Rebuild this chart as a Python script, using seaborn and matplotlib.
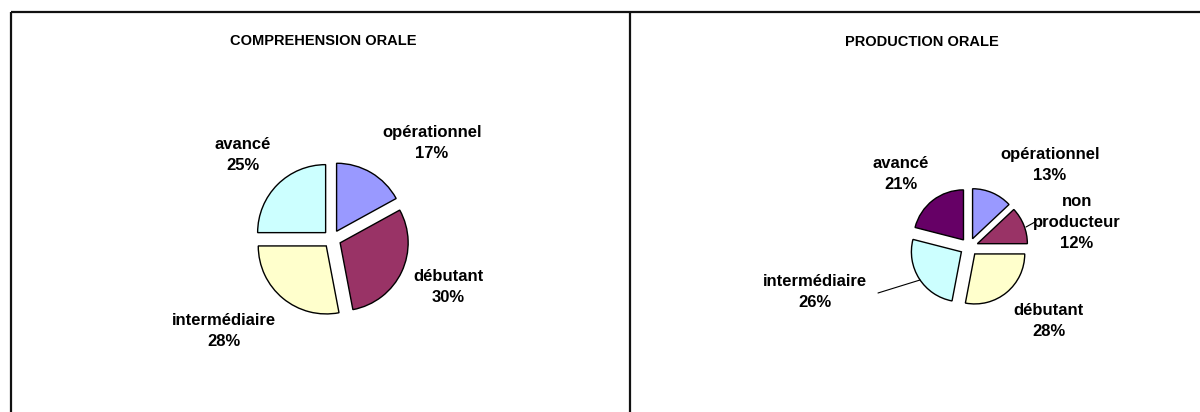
import numpy as np
import seaborn as sns
import matplotlib.pyplot as plt

# data
co_labels = ['opérationnel', 'débutant', 'intermédiaire', 'avancé']
co_values = [17, 30, 28, 25]
po_labels = ['opérationnel', 'non\nproducteur', 'débutant', 'intermédiaire', 'avancé']
po_values = [13, 12, 28, 26, 21]

co_colors = ['#9999FF', '#993366', '#FFFFCC', '#CCFFFF']
po_colors = ['#9999FF', '#993366', '#FFFFCC', '#CCFFFF', '#660066']

sns.set_theme(style='white')
plt.rcParams['font.family'] = ['Liberation Sans', 'DejaVu Sans']
plt.rcParams['text.color'] = 'black'

W, H = 1200, 412
fig = plt.figure(figsize=(12, 4.12), dpi=100)
ax = fig.add_axes([0, 0, 1, 1])


def py(y):
    # reference pixel rows count from the top
    return H - y


wp = dict(edgecolor='black', linewidth=1.0)

# left pie
ax.pie(co_values, colors=sns.color_palette(co_colors), startangle=90, counterclock=False,
       center=(332, py(239)), radius=68, explode=[9] * len(co_values), wedgeprops=wp)
# right pie
ax.pie(po_values, colors=sns.color_palette(po_colors), startangle=90, counterclock=False,
       center=(969, py(247)), radius=50, explode=[9] * len(po_values), wedgeprops=wp)

ax.set_xlim(0, W)
ax.set_ylim(0, H)
ax.set_aspect('equal')
ax.axis('off')

# label placement (reference pixel positions)
co_pos = [(432, 143), (448, 287), (224, 331), (243, 155)]
po_pos = [(1050, 165), (1077, 222), (1049, 321), (815, 292), (901, 174)]

lab_kw = dict(ha='center', va='center', fontsize=12, fontweight='bold',
              linespacing=1.5, color='black')
for lab, v, (x, y) in zip(co_labels, co_values, co_pos):
    ax.text(x, py(y), f'{lab}\n{v}%', **lab_kw)
for lab, v, (x, y) in zip(po_labels, po_values, po_pos):
    ax.text(x, py(y), f'{lab}\n{v}%', **lab_kw)

# leader lines
ax.plot([878, 920], [py(293), py(280)], color='black', lw=0.8)
ax.plot([1026, 1035], [py(227), py(222)], color='black', lw=0.8)

# titles
ax.text(323, py(41), 'COMPREHENSION ORALE', ha='center', va='center',
        fontsize=10.5, fontweight='bold', color='black')
ax.text(922, py(42), 'PRODUCTION ORALE', ha='center', va='center',
        fontsize=10.5, fontweight='bold', color='black')

# frame lines
ax.plot([11, W], [py(12), py(12)], color='#111111', lw=1.6, solid_capstyle='butt')
ax.plot([11, 11], [py(12), 0], color='#111111', lw=1.6, solid_capstyle='butt')
ax.plot([630, 630], [py(12), 0], color='#111111', lw=1.6, solid_capstyle='butt')

fig.savefig('out.png', dpi=100)
